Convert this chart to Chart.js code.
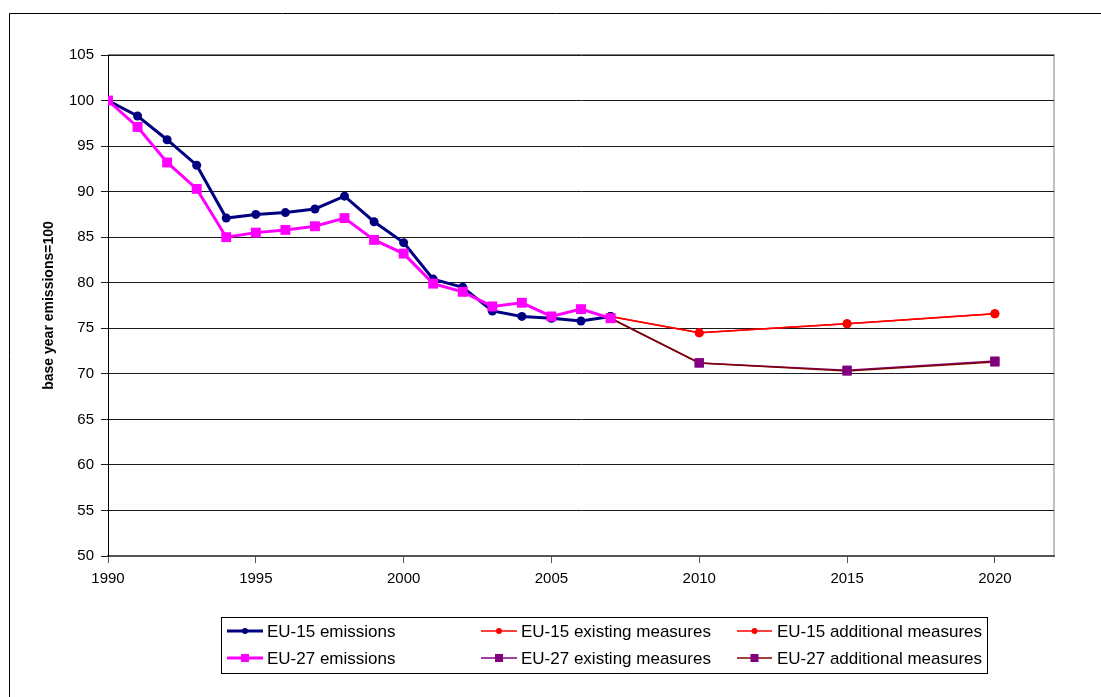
<!DOCTYPE html>
<html>
<head>
<meta charset="utf-8">
<script src="https://cdn.jsdelivr.net/npm/chart.js@4.4.1/dist/chart.umd.min.js"></script>
<style>
  html, body { margin: 0; padding: 0; background: #fff; }
  #wrap { position: relative; width: 1101px; height: 697px; }
</style>
</head>
<body>
<div id="wrap"><canvas id="c" width="1101" height="697"></canvas></div>
<script>
// ---- Data ----
const histYears = [1990, 1991, 1992, 1993, 1994, 1995, 1996, 1997, 1998, 1999, 2000, 2001, 2002, 2003, 2004, 2005, 2006, 2007];
const eu15Emissions = [100, 98.3, 95.7, 92.9, 87.1, 87.5, 87.7, 88.1, 89.5, 86.7, 84.4, 80.4, 79.5, 76.9, 76.3, 76.1, 75.8, 76.3];
const eu27Emissions = [100, 97.1, 93.2, 90.3, 85.0, 85.5, 85.8, 86.2, 87.1, 84.7, 83.2, 79.9, 79.0, 77.4, 77.8, 76.3, 77.1, 76.1];
const projYears = [2007, 2010, 2015, 2020];
const eu15Existing = [76.3, 74.5, 75.5, 76.6];
const eu15Additional = [76.3, 74.5, 75.5, 76.6];
const eu27Existing = [76.1, 71.2, 70.4, 71.4];
const eu27Additional = [76.1, 71.2, 70.3, 71.3];
const yTicks = [50, 55, 60, 65, 70, 75, 80, 85, 90, 95, 100, 105];
const xTicks = [1990, 1995, 2000, 2005, 2010, 2015, 2020];
const yTitle = 'base year emissions=100';

const pts = (xs, ys) => xs.map((x, i) => ({ x: x, y: ys[i] }));
const FONT = "'Liberation Sans', Arial, sans-serif";

const datasets = [
  { label: 'EU-15 emissions', data: pts(histYears, eu15Emissions), borderColor: '#000080', backgroundColor: '#000080',
    borderWidth: 3, pointStyle: 'circle', pointRadius: 4.5, order: 3, lw: 3, col: 0, row: 0, mr: 3 },
  { label: 'EU-15 existing measures', data: pts(projYears, eu15Existing), borderColor: '#FF0000', backgroundColor: '#FF0000',
    borderWidth: 1.5, pointStyle: 'circle', pointRadius: 4.5, order: 5, lw: 1.5, col: 1, row: 0, mr: 3 },
  { label: 'EU-15 additional measures', data: pts(projYears, eu15Additional), borderColor: '#FF0000', backgroundColor: '#FF0000',
    borderWidth: 1.5, pointStyle: 'circle', pointRadius: 4.5, order: 4, lw: 1.5, col: 2, row: 0, mr: 3 },
  { label: 'EU-27 emissions', data: pts(histYears, eu27Emissions), borderColor: '#FF00FF', backgroundColor: '#FF00FF',
    borderWidth: 3, pointStyle: 'rect', pointRadius: 7, order: 0, lw: 3, col: 0, row: 1, mr: 4 },
  { label: 'EU-27 existing measures', data: pts(projYears, eu27Existing), borderColor: '#800080', backgroundColor: '#800080',
    borderWidth: 1.5, pointStyle: 'rect', pointRadius: 6.5, order: 2, lw: 1.5, col: 1, row: 1, mr: 4 },
  { label: 'EU-27 additional measures', data: pts(projYears, eu27Additional), borderColor: '#800000', backgroundColor: '#800080',
    borderWidth: 1.5, pointStyle: 'rect', pointRadius: 6.5, order: 1, lw: 1.5, col: 2, row: 1, mr: 4 }
];
datasets.forEach(d => { d.pointBorderWidth = 0; d.pointBackgroundColor = d.backgroundColor; d.pointBorderColor = d.backgroundColor; d.tension = 0; d.fill = false; });

const frame = {
  id: 'frame',
  beforeDraw(chart) {
    const ctx = chart.ctx, a = chart.chartArea;
    ctx.save();
    ctx.fillStyle = '#fff';
    ctx.fillRect(0, 0, chart.width, chart.height);
    ctx.strokeStyle = '#000';
    ctx.lineWidth = 1;
    ctx.beginPath();
    ctx.moveTo(9.5, chart.height + 2);
    ctx.lineTo(9.5, 13.5);
    ctx.lineTo(chart.width + 2, 13.5);
    ctx.stroke();
    ctx.strokeStyle = '#808080';
    ctx.strokeRect(Math.round(a.left) + 0.5, Math.round(a.top) - 0.5, Math.round(a.right - a.left) - 0.5, Math.round(a.bottom - a.top) + 1);
    ctx.restore();
  },
  afterDraw(chart) {
    const ctx = chart.ctx;
    const box = { x: 221.5, y: 617.5, w: 766, h: 56 };
    const sx = [227, 481, 737], ex = [263, 517, 772], tx = [267, 521, 777];
    const ry = [631, 658];
    ctx.save();
    ctx.strokeStyle = '#000';
    ctx.lineWidth = 1;
    ctx.strokeRect(box.x, box.y, box.w, box.h);
    ctx.font = '17px ' + FONT;
    ctx.textBaseline = 'middle';
    ctx.fillStyle = '#000';
    chart.data.datasets.forEach(d => {
      const y = ry[d.row];
      ctx.strokeStyle = d.borderColor;
      ctx.lineWidth = d.lw;
      ctx.beginPath();
      ctx.moveTo(sx[d.col], y);
      ctx.lineTo(ex[d.col], y);
      ctx.stroke();
      ctx.fillStyle = d.backgroundColor;
      const cx = (sx[d.col] + ex[d.col]) / 2;
      if (d.pointStyle === 'circle') {
        ctx.beginPath(); ctx.arc(cx, y, d.mr, 0, Math.PI * 2); ctx.fill();
      } else {
        ctx.fillRect(cx - d.mr, y - d.mr, d.mr * 2, d.mr * 2);
      }
      ctx.fillStyle = '#000';
      ctx.fillText(d.label, tx[d.col], y + 1);
    });
    ctx.restore();
  }
};

new Chart(document.getElementById('c'), {
  type: 'line',
  data: { datasets: datasets },
  plugins: [frame],
  options: {
    responsive: false,
    animation: false,
    events: [],
    layout: { padding: { left: 30, top: 55, right: 47, bottom: 111 } },
    plugins: { legend: { display: false }, tooltip: { enabled: false }, title: { display: false } },
    scales: {
      x: {
        type: 'linear', min: 1990, max: 2022,
        afterFit(s) { s.height = 30; },
        afterBuildTicks(s) { s.ticks = xTicks.map(v => ({ value: v })); },
        ticks: { color: '#000', font: { family: FONT, size: 15 }, padding: 7, maxRotation: 0, autoSkip: false,
                 callback: v => String(v) },
        grid: { drawOnChartArea: false, drawTicks: true, tickLength: 7, color: '#555', lineWidth: 1 },
        border: { display: true, color: '#555', width: 2 }
      },
      y: {
        type: 'linear', min: 50, max: 105,
        afterFit(s) { s.width = 78; },
        afterBuildTicks(s) { s.ticks = yTicks.map(v => ({ value: v })); },
        ticks: { color: '#000', font: { family: FONT, size: 15 }, padding: 7, autoSkip: false },
        grid: { drawOnChartArea: true, drawTicks: true, tickLength: 7, color: '#1a1a1a', lineWidth: 1 },
        border: { display: true, color: '#000', width: 1 },
        title: { display: true, text: yTitle, color: '#000', font: { family: FONT, size: 14, weight: 'bold' }, padding: { top: 11, bottom: 0 } }
      }
    }
  }
});
</script>
</body>
</html>
